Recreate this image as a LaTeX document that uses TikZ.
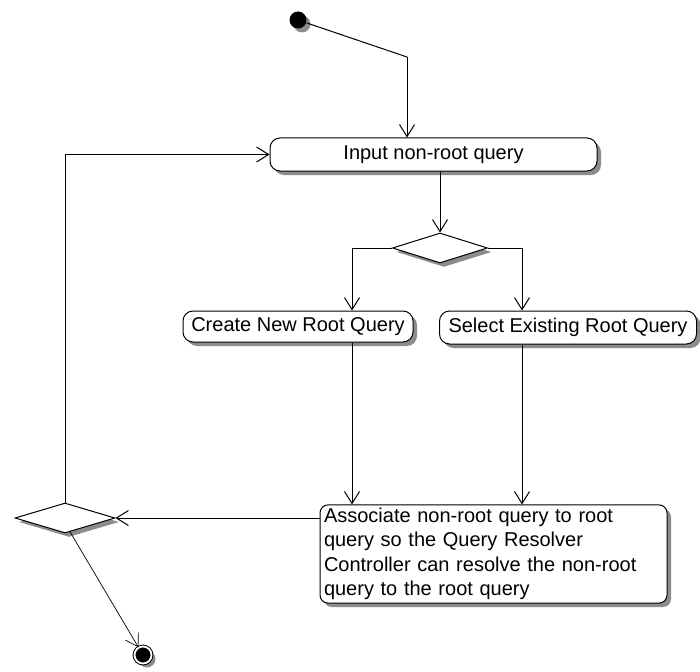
\documentclass[tikz,border=0pt]{standalone}
\usepackage{fontspec}
\setmainfont{Liberation Sans}
\usepackage{tikz}
\usetikzlibrary{arrows.meta}
\usetikzlibrary{shapes.geometric}
\usetikzlibrary{shadows}

\begin{document}
\begin{tikzpicture}[x=1pt, y=-1pt, line width=1pt,
        >={Straight Barb[length=12pt, width=15pt]},
        shade/.style={drop shadow={shadow xshift=4pt, shadow yshift=-4pt,
            fill=black!45, opacity=1}},
        activity/.style={draw, fill=white, rounded corners=10pt, shade,
            inner sep=2pt, font=\fontsize{20}{24.5}\selectfont},
        choice/.style={draw, fill=white, diamond, inner sep=0pt, shade},
        initial/.style={circle, fill=black, inner sep=0pt,
            minimum size=17pt, shade},
        final/.style={circle, fill=black, draw=black, double=white,
            double distance=1.8pt, line width=1pt, inner sep=0pt,
            minimum size=17pt, shade}]
        \useasboundingbox (0, 0) rectangle (700, 671);

        \node[initial] (ini) at (298, 20) {};
        \coordinate (bend) at (407, 57);

        \node[activity, minimum width=327pt, minimum height=33pt]
            (input) at (433.5, 154.5) {Input non-root query};
        \node[choice, minimum width=95pt, minimum height=30pt]
            (split) at (440, 248) {};
        \node[activity, minimum width=230pt, minimum height=31pt]
            (create) at (298, 326.5) {Create New Root Query};
        \node[activity, minimum width=257pt, minimum height=33pt]
            (select) at (568, 327.5) {Select Existing Root Query};
        \node[activity, rounded corners=8pt, minimum width=347pt,
            minimum height=98pt, text width=339pt, align=left, inner sep=3pt]
            (assoc) at (493.5, 554) {Associate non-root query to root\\
            query so the Query Resolver\\
            Controller can resolve the non-root\\
            query to the root query};
        \node[choice, minimum width=100pt, minimum height=30pt]
            (merge) at (65, 518) {};
        \node[final] (fin) at (143, 655) {};

        \draw (ini) -- (bend);
        \draw[->] (bend) -- (bend |- input.north);
        \draw[->] (input.south -| split.north) -- (split.north);
        \draw[->] (split.west) -| ([xshift=54pt]create.north);
        \draw[->] (split.east) -| ([xshift=-46pt]select.north);
        \draw[->] ([xshift=54pt]create.south)
            -- ([xshift=54pt]create.south |- assoc.north);
        \draw[->] ([xshift=-46pt]select.south)
            -- ([xshift=-46pt]select.south |- assoc.north);
        \draw[->] (assoc.west |- merge.east) -- (merge.east);
        \draw[->] (merge.north) |- (input.west);
        \draw[->, line width=0.7pt] (merge.290) -- (fin);
    \end{tikzpicture}
\end{document}
